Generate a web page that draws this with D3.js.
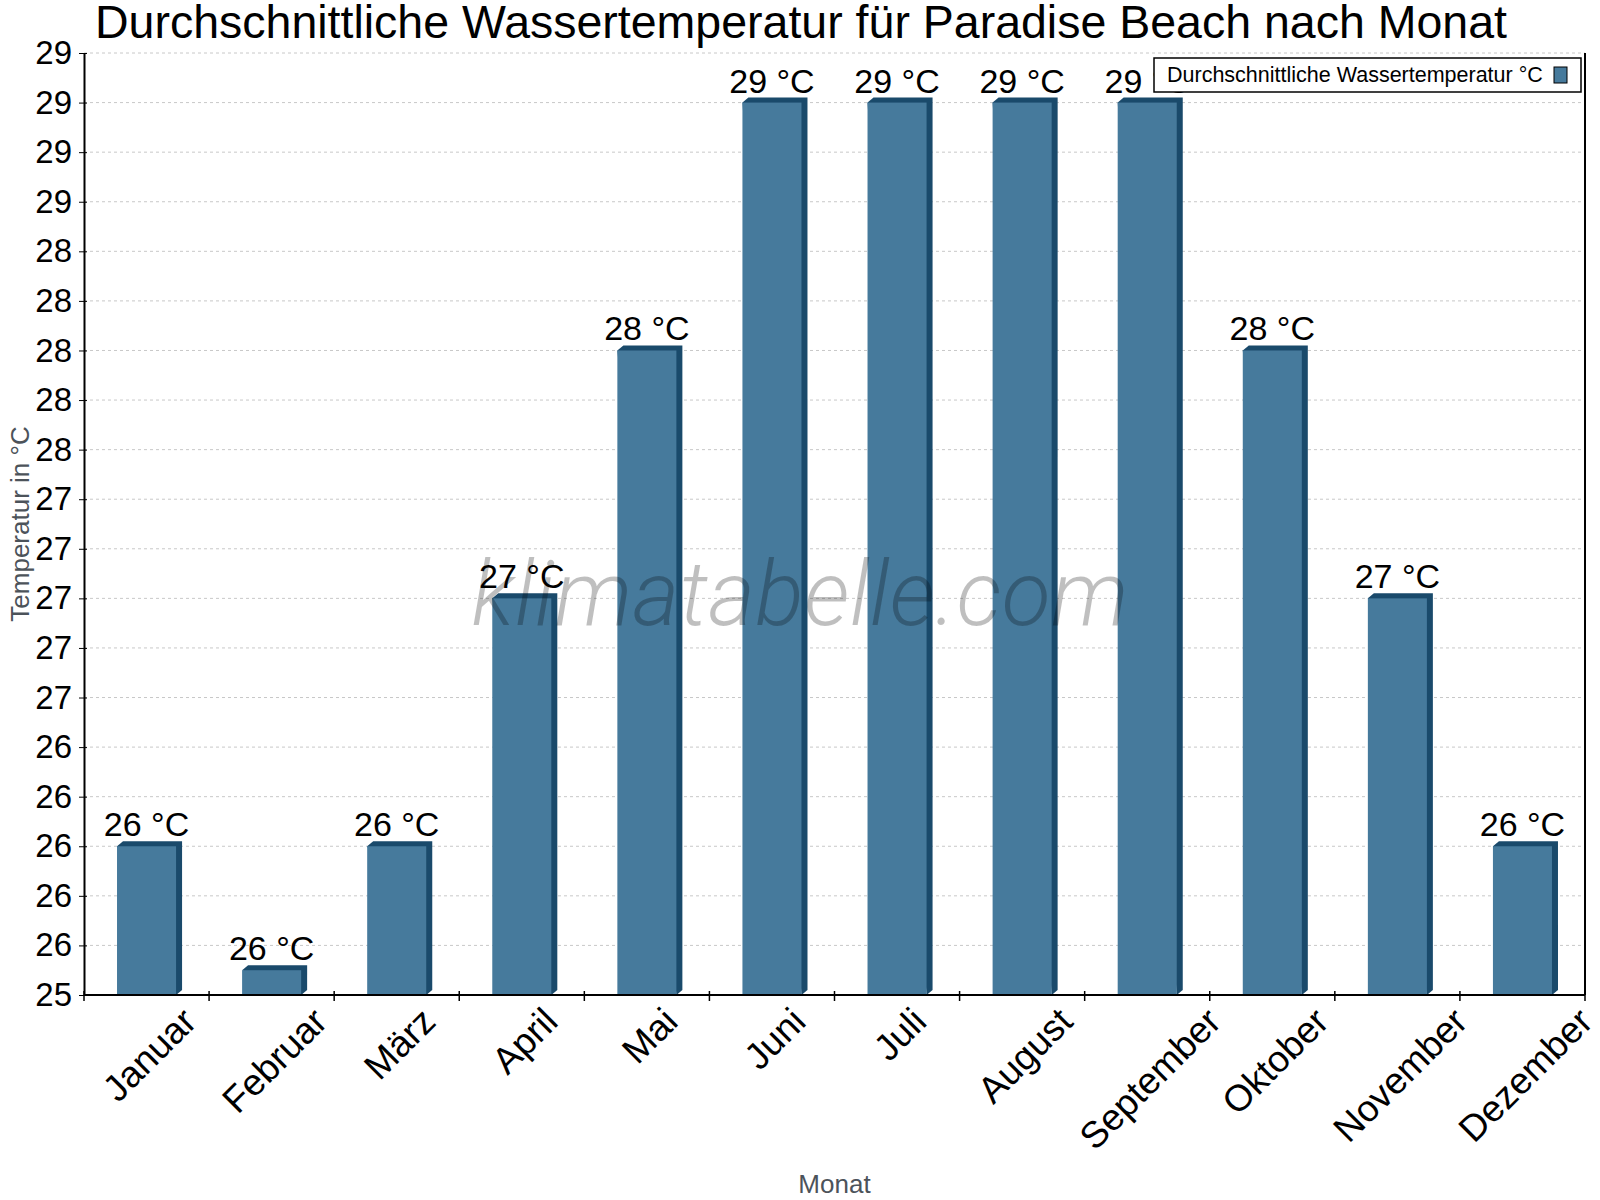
<!DOCTYPE html>
<html>
<head>
<meta charset="utf-8">
<script src="https://cdn.jsdelivr.net/npm/d3@7"></script>
<style>
    body { margin: 0; background: #fff; }
    svg { display: block; font-family: "Liberation Sans", Arial, sans-serif; }
</style>
</head>
<body>
<svg class="water_svg"></svg>
<script>
const months = ["Januar", "Februar", "März", "April", "Mai", "Juni", "Juli",
    "August", "September", "Oktober", "November", "Dezember"];
const waterTemp = [26, 25.5, 26, 27, 28, 29, 29, 29, 29, 28, 27, 26];
const yTicks = [25.4, 25.6, 25.8, 26.0, 26.2, 26.4, 26.6, 26.8, 27.0, 27.2,
    27.4, 27.6, 27.8, 28.0, 28.2, 28.4, 28.6, 28.8, 29.0, 29.2];
const yDomain = [25.4, 29.2];

const title = "Durchschnittliche Wassertemperatur für Paradise Beach nach Monat";
const seriesName = "Durchschnittliche Wassertemperatur °C";

const chartW = 1600, chartH = 1200;
const plotLeft = 84, plotRight = 1585, plotTop = 53, plotBottom = 995;
const front = "#467a9c", dark = "#1a4a6b";
const depthX = 6, depthY = 5;

let svg = d3.select(".water_svg")
    .attr("width", chartW)
    .attr("height", chartH);

let x = d3.scaleBand()
    .domain(months)
    .range([plotLeft, plotRight])
    .paddingInner(0.528)
    .paddingOuter(0.264);

let xb = d3.scaleBand().domain(months).range([plotLeft, plotRight]);

let y = d3.scaleLinear()
    .domain(yDomain)
    .range([plotBottom, plotTop]);

// grid lines
svg.append("g")
    .selectAll("line")
    .data(yTicks)
    .enter()
    .append("line")
    .attr("x1", plotLeft)
    .attr("x2", plotRight)
    .attr("y1", d => y(d))
    .attr("y2", d => y(d))
    .attr("stroke", "#c8c8c8")
    .attr("stroke-width", 1)
    .attr("stroke-dasharray", "3,3");

// bars with a small 3d edge
let bars = svg.append("g")
    .selectAll("g")
    .data(months.map((m, i) => ({month: m, value: waterTemp[i]})))
    .enter()
    .append("g");

bars.append("polygon")
    .attr("fill", dark)
    .attr("points", d => {
        let x0 = x(d.month), x1 = x0 + x.bandwidth(), y0 = y(d.value);
        return [[x0, y0], [x0 + depthX, y0 - depthY], [x1 + depthX, y0 - depthY],
            [x1 + depthX, plotBottom - depthY], [x1, plotBottom]].join(" ");
    });

bars.append("rect")
    .attr("x", d => x(d.month))
    .attr("y", d => y(d.value))
    .attr("width", x.bandwidth())
    .attr("height", d => plotBottom - y(d.value))
    .attr("fill", front);

bars.append("text")
    .attr("x", d => x(d.month) + x.bandwidth() / 2)
    .attr("y", d => y(d.value) - 10)
    .attr("text-anchor", "middle")
    .attr("font-size", 34)
    .attr("fill", "#000")
    .text(d => d3.format(".0f")(d.value) + " °C");

// watermark sits over the bars
svg.append("text")
    .attr("x", 800)
    .attr("y", 625)
    .attr("text-anchor", "middle")
    .attr("font-family", "Roboto")
    .attr("font-weight", 300)
    .attr("font-style", "italic")
    .attr("font-size", 90)
    .attr("textLength", 657)
    .attr("lengthAdjust", "spacing")
    .attr("fill", "rgba(0,0,0,0.25)")
    .text("klimatabelle.com");

// y axis
let yAxis = d3.axisLeft(y)
    .tickValues(yTicks)
    .tickFormat(d3.format(".0f"))
    .tickSizeInner(5)
    .tickSizeOuter(0)
    .tickPadding(7);

let yg = svg.append("g")
    .attr("transform", "translate(" + plotLeft + ",0)")
    .call(yAxis);
yg.selectAll("text").attr("font-size", 33).attr("fill", "#000")
    .attr("font-family", "Liberation Sans, Arial, sans-serif");
yg.selectAll("line").attr("x2", 3).attr("x1", -5).attr("stroke", "#000");
yg.select(".domain").attr("stroke", "#000").attr("stroke-width", 2);

// right border
svg.append("line")
    .attr("x1", plotRight).attr("x2", plotRight)
    .attr("y1", plotTop).attr("y2", plotBottom)
    .attr("stroke", "#000").attr("stroke-width", 2);

// x axis: ticks at the band edges
let xg = svg.append("g");
xg.append("line")
    .attr("x1", plotLeft).attr("x2", plotRight)
    .attr("y1", plotBottom).attr("y2", plotBottom)
    .attr("stroke", "#000").attr("stroke-width", 2);
xg.selectAll(".tick")
    .data(months.concat(["end"]))
    .enter()
    .append("line")
    .attr("x1", (d, i) => i < months.length ? xb(d) : plotRight)
    .attr("x2", (d, i) => i < months.length ? xb(d) : plotRight)
    .attr("y1", plotBottom - 4)
    .attr("y2", plotBottom + 6)
    .attr("stroke", "#000")
    .attr("stroke-width", 1.5);

// rotated month labels, box top aligned under the axis
xg.selectAll(".lab")
    .data(months)
    .enter()
    .append("text")
    .attr("font-size", 37)
    .attr("text-anchor", "middle")
    .attr("dominant-baseline", "central")
    .text(d => d)
    .each(function (d) {
        let w = this.getComputedTextLength();
        let cx = xb(d) + xb.bandwidth() / 2 + 3;
        let cy = 1006 + 0.7071 * (w + 25) / 2;
        d3.select(this)
            .attr("x", cx)
            .attr("y", cy)
            .attr("transform", "rotate(-45," + cx + "," + cy + ")");
    });

// title and axis titles
svg.append("text")
    .attr("x", 801)
    .attr("y", 38)
    .attr("text-anchor", "middle")
    .attr("font-size", 46.5)
    .attr("fill", "#000")
    .text(title);

svg.append("text")
    .attr("x", (plotLeft + plotRight) / 2)
    .attr("y", 1193)
    .attr("text-anchor", "middle")
    .attr("font-size", 26)
    .attr("fill", "#4c535a")
    .text("Monat");

svg.append("text")
    .attr("transform", "translate(29," + (plotTop + plotBottom) / 2 + ") rotate(-90)")
    .attr("text-anchor", "middle")
    .attr("font-size", 26)
    .attr("fill", "#4c535a")
    .text("Temperatur in °C");

// legend drawn over the september label
let legend = svg.append("g");
legend.append("rect")
    .attr("x", 1154).attr("y", 58)
    .attr("width", 427).attr("height", 34)
    .attr("fill", "#fff")
    .attr("stroke", "#000")
    .attr("stroke-width", 1.5);
legend.append("text")
    .attr("x", 1167).attr("y", 82)
    .attr("font-size", 21.5)
    .attr("fill", "#000")
    .text(seriesName);
legend.append("rect")
    .attr("x", 1554).attr("y", 67)
    .attr("width", 13).attr("height", 16)
    .attr("fill", front)
    .attr("stroke", "#000")
    .attr("stroke-width", 1);
</script>
</body>
</html>
